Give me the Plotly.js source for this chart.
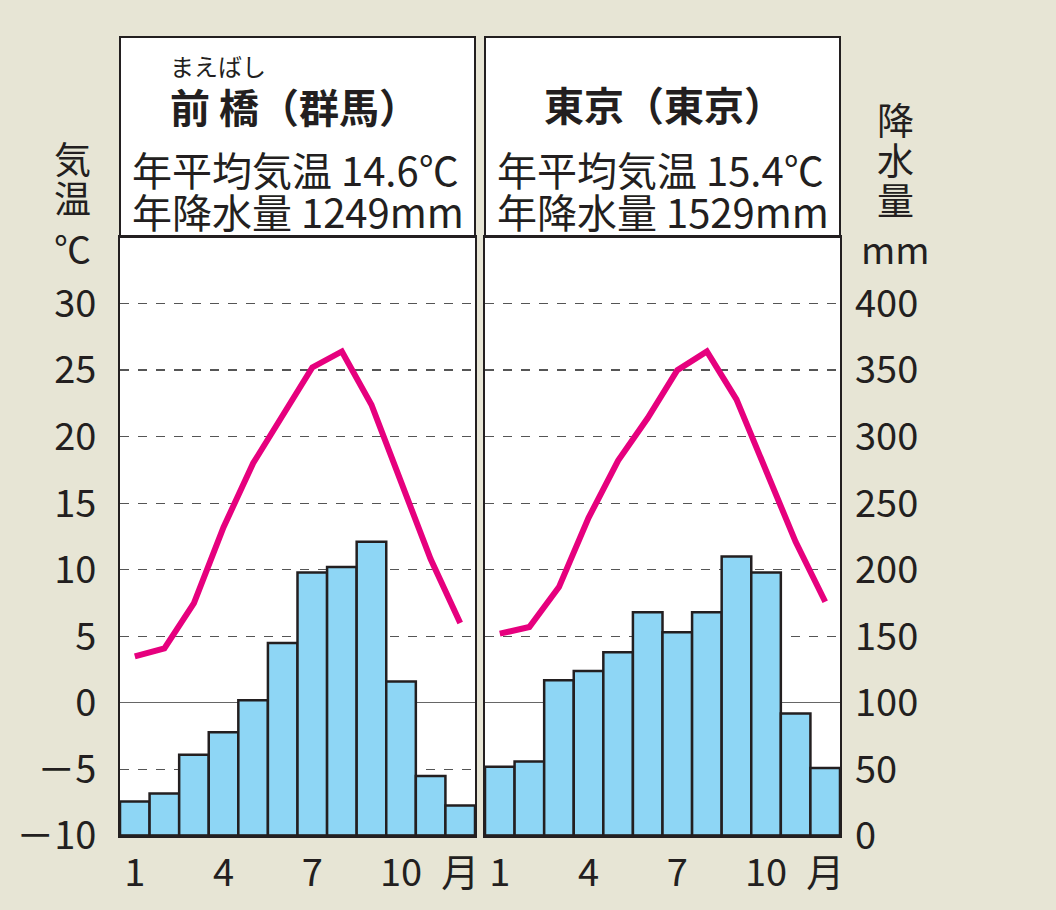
<!DOCTYPE html>
<html>
<head>
<meta charset="utf-8">
<script src="https://cdn.plot.ly/plotly-3.0.1.min.js"></script>
<style>html,body{margin:0;padding:0;background:#e7e5d5;}#chart{width:1056px;height:910px;}</style>
</head>
<body>
<div id="chart"></div>
<script>
// ---- data ----
const months = [1,2,3,4,5,6,7,8,9,10,11,12];
const monthTickVals = [1,4,7,10,12];
const monthTickText = ['1','4','7','10','月'];
const maebashiTemp = [3.5,4.1,7.5,13.2,18.0,21.6,25.2,26.4,22.4,16.6,10.8,6.0];
const maebashiPrecip = [26,32,61,78,102,145,198,202,221,116,45,23];
const tokyoTemp = [5.2,5.7,8.7,13.9,18.2,21.4,25.0,26.4,22.8,17.5,12.1,7.6];
const tokyoPrecip = [52,56,117,124,138,168,153,168,210,198,92,51];
const tempTickVals = [-10,-5,0,5,10,15,20,25,30];
const tempTickText = ['－10','－5','0','5','10','15','20','25','30'];
const precipTickVals = [0,50,100,150,200,250,300,350,400];
const precipTickText = ['0','50','100','150','200','250','300','350','400'];
const leftName = '前 橋（群馬）';
const leftRuby = 'まえばし';
const rightName = '東京（東京）';
const leftStats = ['年平均気温 14.6℃','年降水量 1249mm'];
const rightStats = ['年平均気温 15.4℃','年降水量 1529mm'];
const tempTitle = ['気','温','℃'];
const precipTitle = ['降','水','量','mm'];

// ---- layout helpers ----
const W = 1056, H = 910;
const px = x => x / W;
const py = y => 1 - y / H;
const FONT = '"Noto Sans CJK JP", "Noto Sans", sans-serif';
const INK = '#231f20';
const LX0 = 120, LX1 = 475, RX0 = 485, RX1 = 840;
const TOP = 37, HDR = 237, BOT = 836;

const barStyle = {color:'#8ed6f5', line:{color:INK, width:2.5}};
const lineStyle = {color:'#e6007e', width:6, shape:'linear'};

const traces = [
  {type:'bar', x:months, y:maebashiPrecip, xaxis:'x', yaxis:'y2', marker:barStyle, hoverinfo:'skip'},
  {type:'scatter', mode:'lines', x:months, y:maebashiTemp, xaxis:'x', yaxis:'y', line:lineStyle, hoverinfo:'skip'},
  {type:'bar', x:months, y:tokyoPrecip, xaxis:'x2', yaxis:'y4', marker:barStyle, hoverinfo:'skip'},
  {type:'scatter', mode:'lines', x:months, y:tokyoTemp, xaxis:'x2', yaxis:'y3', line:lineStyle, hoverinfo:'skip'}
];

const yDomain = [py(BOT), py(HDR)];
const xCommon = {
  range:[0.5,12.5], tickmode:'array', tickvals:monthTickVals, ticktext:monthTickText,
  showgrid:false, zeroline:false, showline:true, mirror:true, linecolor:INK, linewidth:2,
  ticks:'', ticklabelstandoff:2, tickfont:{family:FONT, size:38, color:INK}, fixedrange:true
};
const tempGrid = {
  range:[-10,35], tickmode:'array', tickvals:tempTickVals, ticktext:tempTickText,
  showgrid:true, gridcolor:'#555', gridwidth:1.3, griddash:'dash',
  zeroline:true, zerolinecolor:'#666', zerolinewidth:1.2,
  showline:true, mirror:true, linecolor:INK, linewidth:2, ticks:'', fixedrange:true
};

const layout = {
  width:W, height:H,
  margin:{l:0,r:0,t:0,b:0},
  paper_bgcolor:'#e7e5d5', plot_bgcolor:'#ffffff',
  showlegend:false, bargap:0,
  font:{family:FONT, color:INK},
  xaxis:Object.assign({}, xCommon, {domain:[px(LX0), px(LX1)], anchor:'y'}),
  xaxis2:Object.assign({}, xCommon, {domain:[px(RX0), px(RX1)], anchor:'y3'}),
  yaxis:Object.assign({}, tempGrid, {domain:yDomain, anchor:'x', side:'left',
    showticklabels:true, ticklabelstandoff:14, tickfont:{family:FONT, size:38, color:INK}}),
  yaxis2:{range:[0,450], overlaying:'y', anchor:'x', side:'right', showgrid:false, zeroline:false,
    showticklabels:false, showline:false, ticks:'', fixedrange:true},
  yaxis3:Object.assign({}, tempGrid, {domain:yDomain, anchor:'x2', side:'left', showticklabels:false}),
  yaxis4:{range:[0,450], overlaying:'y3', anchor:'x2', side:'right', showgrid:false, zeroline:false,
    tickmode:'array', tickvals:precipTickVals, ticktext:precipTickText,
    showticklabels:true, showline:false, ticks:'', ticklabelstandoff:14,
    tickfont:{family:FONT, size:38, color:INK}, fixedrange:true},
  shapes:[
    {type:'rect', xref:'paper', yref:'paper', x0:px(LX0), x1:px(LX1), y0:py(HDR), y1:py(TOP),
     fillcolor:'#ffffff', line:{color:INK, width:2}, layer:'below'},
    {type:'rect', xref:'paper', yref:'paper', x0:px(RX0), x1:px(RX1), y0:py(HDR), y1:py(TOP),
     fillcolor:'#ffffff', line:{color:INK, width:2}, layer:'below'},
    {type:'line', xref:'paper', yref:'paper', x0:px(LX0), x1:px(LX1), y0:py(BOT), y1:py(BOT), line:{color:INK, width:3.5}},
    {type:'line', xref:'paper', yref:'paper', x0:px(RX0), x1:px(RX1), y0:py(BOT), y1:py(BOT), line:{color:INK, width:3.5}}
  ],
  annotations:[]
};

function ann(text, x, y, size, opts) {
  layout.annotations.push(Object.assign({
    text:text, xref:'paper', yref:'paper', x:px(x), y:py(y), showarrow:false,
    xanchor:'left', yanchor:'middle', font:{family:FONT, size:size, color:INK}
  }, opts || {}));
}
ann(leftRuby, 218, 66, 24, {xanchor:'center'});
ann('<b>' + leftName + '</b>', 168, 106, 40);
ann('<b>' + rightName + '</b>', 542, 104, 40);
ann(leftStats[0], 130, 169, 40);
ann(leftStats[1], 130, 211, 40);
ann(rightStats[0], 495, 169, 40);
ann(rightStats[1], 495, 211, 40);
const tY = [158, 197, 248];
tempTitle.forEach((t,i) => ann(t, 72, tY[i], 37, {xanchor:'center'}));
const pY = [119, 159, 199, 248];
precipTitle.forEach((t,i) => ann(t, 895, pY[i], 37, {xanchor:'center'}));

Plotly.newPlot('chart', traces, layout, {staticPlot:true, displayModeBar:false});
</script>
</body>
</html>
